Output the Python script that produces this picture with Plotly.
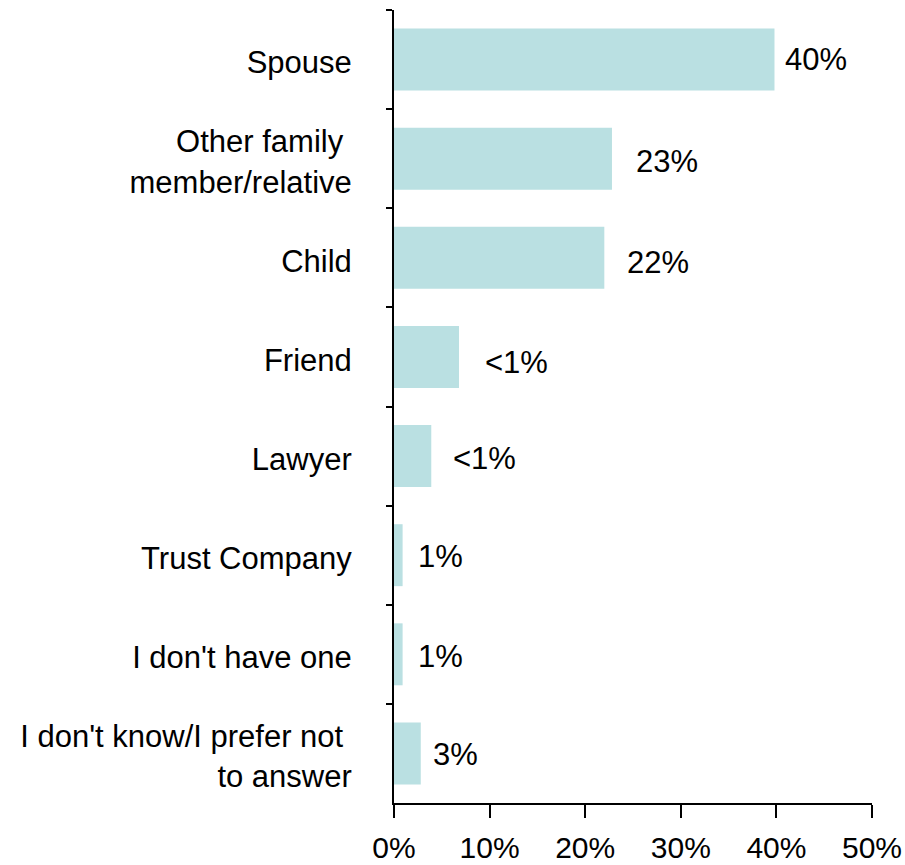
import plotly.graph_objects as go

# Survey answers, top to bottom
categories = [
    "Spouse",
    "Other family\u00a0<br>member/relative",
    "Child",
    "Friend",
    "Lawyer",
    "Trust Company",
    "I don't have one",
    "I don't know/I prefer not\u00a0<br>to answer",
]
values = [39.8, 22.8, 22.0, 6.8, 3.9, 0.9, 0.9, 2.8]
value_labels = ["40%", "23%", "22%", "<1%", "<1%", "1%", "1%", "3%"]
x_ticks = [0, 10, 20, 30, 40, 50]
x_tick_labels = ["0%", "10%", "20%", "30%", "40%", "50%"]

# label placement (pixel offsets from the bar end)
label_xshift = [9, 22, 21, 24, 20, 13, 13, 10]
label_yshift = [0, -3, -5, -6, -2, -1, -2, -1]

FONT = "Liberation Sans, Arial, sans-serif"
BAR_COLOR = "#BAE0E2"

fig = go.Figure(
    go.Bar(
        x=values,
        y=categories,
        orientation="h",
        marker=dict(color=BAR_COLOR, line=dict(width=0)),
        hoverinfo="skip",
    )
)

for cat, val, lab, dx, dy in zip(categories, values, value_labels, label_xshift, label_yshift):
    fig.add_annotation(
        x=val, y=cat, text=lab, showarrow=False,
        xanchor="left", yanchor="middle",
        xshift=dx, yshift=dy,
        font=dict(family=FONT, size=31, color="#000000"),
    )

fig.update_layout(
    width=905, height=865,
    margin=dict(l=394, r=33, t=10, b=62, autoexpand=False),
    paper_bgcolor="white", plot_bgcolor="white",
    bargap=0.375,
    showlegend=False,
    font=dict(family=FONT, size=31, color="#000000"),
)

fig.update_xaxes(
    range=[0, 50], automargin=False,
    tickvals=x_ticks, ticktext=x_tick_labels,
    showgrid=False, zeroline=False,
    showline=True, linecolor="#000000", linewidth=2,
    ticks="outside", ticklen=13, tickwidth=2, tickcolor="#000000",
    tickfont=dict(family=FONT, size=30, color="#000000"),
    ticklabelstandoff=4,
)

fig.update_yaxes(
    autorange="reversed", automargin=False,
    showgrid=False, zeroline=False,
    showline=True, linecolor="#000000", linewidth=2,
    ticks="outside", ticklen=6, tickwidth=2, tickcolor="#000000",
    tickson="boundaries",
    tickfont=dict(family=FONT, size=31, color="#000000"),
    ticklabelstandoff=34,
    ticklabelshift=-3,
)

fig.write_html("out.html")
